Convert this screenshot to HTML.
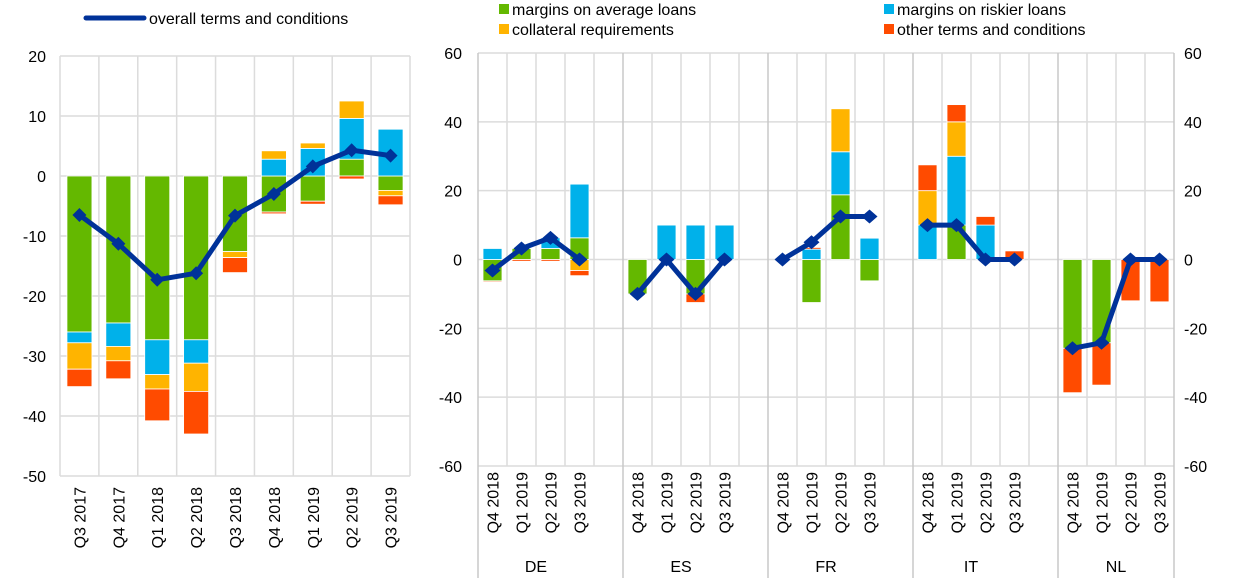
<!DOCTYPE html>
<html><head><meta charset="utf-8"><style>
body{margin:0;background:#fff;}
svg{display:block;font-family:"Liberation Sans",Arial,sans-serif;}
</style></head><body>
<svg id="c" width="1240" height="586" viewBox="0 0 1240 586">
<g>
<line x1="86" y1="18" x2="144" y2="18" stroke="#003299" stroke-width="5" stroke-linecap="round"/>
<text x="149" y="24" font-size="16" fill="#000">overall terms and conditions</text>
</g>
<g>
<rect x="499" y="4" width="10" height="10" fill="#64b800"/><text x="512" y="15" font-size="16">margins on average loans</text>
<rect x="499" y="24" width="10" height="10" fill="#ffb400"/><text x="512" y="35" font-size="16">collateral requirements</text>
<rect x="884" y="4" width="10" height="10" fill="#00b1ea"/><text x="897" y="15" font-size="16">margins on riskier loans</text>
<rect x="884" y="24" width="10" height="10" fill="#ff4b00"/><text x="897" y="35" font-size="16">other terms and conditions</text>
</g>
</svg>
<script>
const leftCats=["Q3 2017","Q4 2017","Q1 2018","Q2 2018","Q3 2018","Q4 2018","Q1 2019","Q2 2019","Q3 2019"];
const leftGreen=[-26,-24.5,-27.3,-27.3,-12.6,-6,-4.2,2.8,-2.4];
const leftBlue=[-1.8,-3.9,-5.8,-3.9,0,2.8,4.6,6.8,7.8];
const leftYellow=[-4.4,-2.4,-2.4,-4.7,-1,1.4,0.9,2.9,-0.9];
const leftRed=[-2.9,-3,-5.3,-7.1,-2.5,-0.3,-0.5,-0.5,-1.5];
const leftLine=[-6.5,-11.3,-17.3,-16.2,-6.6,-3,1.6,4.3,3.4];
const leftTicks=[20,10,0,-10,-20,-30,-40,-50];

const groups=["DE","ES","FR","IT","NL"];
const rightCats=["Q4 2018","Q1 2019","Q2 2019","Q3 2019"];
const rightGreen=[-6.2,3.2,3.2,6.3, -10,0,-10,0, 0,-12.5,18.8,-6.2, 0,10,0,0, -25.8,-24.2,0,0];
const rightBlue=[3.2,0,3.1,15.6, 0,10,10,10, 0,3,12.5,6.2, 10,20,10,0, 0,0,0,0];
const rightYellow=[0,0,0,-3.2, 0,0,0,0, 0,0,12.5,0, 10,10,0,0, 0,0,0,0];
const rightRed=[-0.3,-0.5,-0.5,-1.5, 0,0,-2.5,0, 0,0.5,0,0, 7.5,5,2.5,2.5, -12.9,-12.3,-12,-12.3];
const rightLine=[-3.2,3.2,6.3,0, -10,0,-10,0, 0,5,12.5,12.5, 10,10,0,0, -25.8,-24.2,0,0];
const rightTicks=[60,40,20,0,-20,-40,-60];

const colors=["#64b800","#00b1ea","#ffb400","#ff4b00"];
const svg=document.getElementById('c');
const NS="http://www.w3.org/2000/svg";
function mk(t,a,p){const e=document.createElementNS(NS,t);for(const k in a)e.setAttribute(k,a[k]);(p||svg).appendChild(e);return e;}

// LEFT
const lY=v=>176-(v)*6;
const lX0=60,lW=350,lSlot=lW/leftCats.length;
const lgrid=mk('g',{});


leftTicks.forEach(t=>{
  mk('line',{x1:lX0,x2:lX0+lW,y1:lY(t),y2:lY(t),stroke:'#dcdcdc','stroke-width':1.5},lgrid);
  const tx=mk('text',{x:46,y:lY(t)+6,'font-size':16,'text-anchor':'end'});
  tx.textContent=t;
  
  
});
for(let i=0;i<=leftCats.length;i++)mk('line',{x1:lX0+i*lSlot,x2:lX0+i*lSlot,y1:lY(20),y2:lY(-50),stroke:'#dcdcdc','stroke-width':1.5},lgrid);
function stack(x,w,vals,yf,name){
  let pos=0,neg=0;
  vals.forEach((v,s)=>{
    if(!v)return;
    let y0,y1;
    if(v>0){y0=pos;y1=pos+v;pos=y1;}else{y0=neg;y1=neg+v;neg=y1;}
    const r=mk('rect',{x:x,width:w,y:Math.min(yf(y0),yf(y1)),height:Math.abs(yf(y0)-yf(y1)),fill:colors[s],stroke:'#fff','stroke-width':0.8});
    
    
  });
}
leftCats.forEach((c,i)=>{
  const cx=lX0+(i+0.5)*lSlot;
  stack(cx-12.5,25,[leftGreen[i],leftBlue[i],leftYellow[i],leftRed[i]],lY,'left-bar-'+i);
  const t=mk('text',{transform:`translate(${cx+6},487) rotate(-90)`,'font-size':16,'text-anchor':'end'});
  t.textContent=c;
  
  
});
let lp=leftLine.map((v,i)=>[lX0+(i+0.5)*lSlot,lY(v)]);
const ll=mk('polyline',{points:lp.map(p=>p.join(',')).join(' '),fill:'none',stroke:'#003299','stroke-width':5,'stroke-linejoin':'round'});


lp.forEach(p=>{const m=mk('path',{d:`M${p[0]-7},${p[1]} L${p[0]},${p[1]-7} L${p[0]+7},${p[1]} L${p[0]},${p[1]+7}Z`,fill:'#003299'});

});

// RIGHT
const rY=v=>259.5-v*(206.5/60);
const rX0=478,slot=29,rX1=1174;
const rg=mk('g',{});


rightTicks.forEach(t=>{
  mk('line',{x1:rX0,x2:rX1,y1:rY(t),y2:rY(t),stroke:'#dcdcdc','stroke-width':1.5},rg);
  const a=mk('text',{x:462,y:rY(t)+6,'font-size':16,'text-anchor':'end'});a.textContent=t;
  
  
  const b=mk('text',{x:1184,y:rY(t)+6,'font-size':16,'text-anchor':'start'});b.textContent=t;
  
  
});
for(let k=0;k<=24;k++){const x=rX0+k*slot;const sep=(k%5===0)||k===24;
  mk('line',{x1:x,x2:x,y1:rY(60),y2:sep?578:rY(-60),stroke:sep?'#c8c8c8':'#dcdcdc','stroke-width':1.5},rg);}
const rpts=[];
groups.forEach((g,gi)=>{
  rightCats.forEach((c,ci)=>{
    const i=gi*4+ci;const cx=rX0+(gi*5+ci+0.5)*slot;
    stack(cx-9.5,19,[rightGreen[i],rightBlue[i],rightYellow[i],rightRed[i]],rY,'right-bar-'+g+'-'+ci);
    const t=mk('text',{transform:`translate(${cx+6},472) rotate(-90)`,'font-size':16,'text-anchor':'end'});
    t.textContent=c;
    
    
    rpts.push([cx,rY(rightLine[i])]);
  });
  const gl=mk('text',{x:rX0+gi*5*slot+2*slot,y:572,'font-size':16,'text-anchor':'middle'});
  gl.textContent=g;
  
  
  const pl=mk('polyline',{points:rpts.slice(gi*4,gi*4+4).map(p=>p.join(',')).join(' '),fill:'none',stroke:'#003299','stroke-width':5,'stroke-linejoin':'round'});
  
  
});
rpts.forEach(p=>{const m=mk('path',{d:`M${p[0]-8},${p[1]} L${p[0]},${p[1]-7} L${p[0]+8},${p[1]} L${p[0]},${p[1]+7}Z`,fill:'#003299'});

});
</script>
</body></html>
